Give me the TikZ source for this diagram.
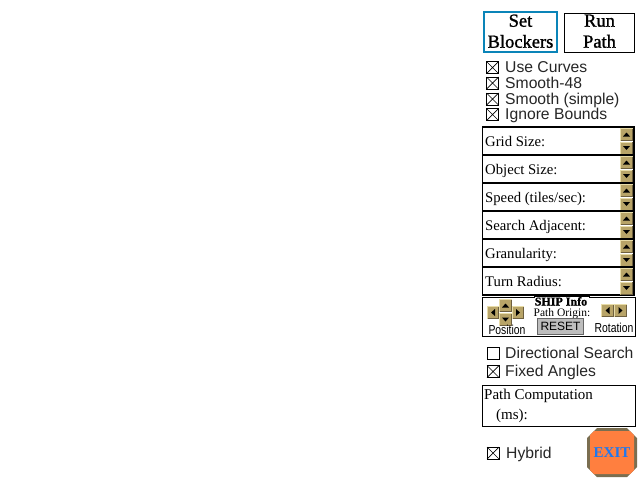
\documentclass[tikz,border=0pt]{standalone}
\usepackage{fontspec}
\setmainfont{Liberation Serif}
\newfontfamily\sansf{Liberation Sans}
\newfontfamily\heavy[FakeBold=1.2]{Liberation Serif}
\definecolor{tan1}{HTML}{B8A468}
\definecolor{tan2}{HTML}{E8DCA8}
\definecolor{tan3}{HTML}{6E6040}
\definecolor{blueb}{HTML}{0A84B8}
\definecolor{exitor}{HTML}{FF7F3F}
\definecolor{exitbd}{HTML}{7A6E50}
\definecolor{exitbl}{HTML}{1E78F0}
\definecolor{resetg}{HTML}{BDBDBD}
\tikzset{
 panel/.style={draw=black,line width=1pt,fill=white},
 rowlab/.style={anchor=base west,inner sep=0pt,font=\fontsize{14.7}{15}\selectfont},
 pclab/.style={anchor=base west,inner sep=0pt,font=\fontsize{15}{15}\selectfont},
 chk/.style={anchor=base west,inner sep=0pt,text=black!85,font=\sansf\fontsize{15.7}{16}\selectfont},
 boxc/.style={draw=black,line width=.9pt,fill=white},
 btnlab/.style={align=center,inner sep=0pt,font=\heavy\fontsize{18.5}{21}\selectfont},
 small/.style={anchor=base,inner sep=0pt,xscale=.8,font=\sansf\fontsize{13}{13}\selectfont},
}
\newcommand{\spin}[5]{%
 \fill[tan1] (#1,#2) rectangle ++(#3,#4);
 \draw[tan2,line width=1pt] (#1+.5,#2+#4-.5) -- (#1+.5,#2+.5) -- (#1+#3-.5,#2+.5);
 \draw[tan3,line width=1pt] (#1+.5,#2+#4-.5) -- (#1+#3-.5,#2+#4-.5) -- (#1+#3-.5,#2+.5);
 \ifcase#5
 \fill[black] ({#1+#3/2-3.5},{#2+#4/2+2}) -- ({#1+#3/2+3.5},{#2+#4/2+2}) -- ({#1+#3/2},{#2+#4/2-2}) -- cycle;
 \or
 \fill[black] ({#1+#3/2-3.5},{#2+#4/2-2}) -- ({#1+#3/2+3.5},{#2+#4/2-2}) -- ({#1+#3/2},{#2+#4/2+2}) -- cycle;
 \or
 \fill[black] ({#1+#3/2+2},{#2+#4/2-3.5}) -- ({#1+#3/2+2},{#2+#4/2+3.5}) -- ({#1+#3/2-2},{#2+#4/2}) -- cycle;
 \or
 \fill[black] ({#1+#3/2-2},{#2+#4/2-3.5}) -- ({#1+#3/2-2},{#2+#4/2+3.5}) -- ({#1+#3/2+2},{#2+#4/2}) -- cycle;
 \fi
}
\newcommand{\checkb}[3]{%
 \draw[boxc] (#1,#2) rectangle ++(12,12);
 \ifnum#3=1 \draw[black,line width=.7pt] (#1,#2) -- ++(12,12) (#1+12,#2) -- ++(-12,12);\fi
}
\newcommand{\rowb}[2]{%
 \draw[panel,line width=1.6pt] (482.5,#1) rectangle (634,#1+28);
 \node[rowlab] (row#1) at (485,#1+19) {#2};
 \spin{620}{#1+1}{13}{13}{0}
 \spin{620}{#1+14.5}{13}{13}{1}
}
\begin{document}
\begin{tikzpicture}[x=1pt,y=-1pt]
\useasboundingbox (0,0) rectangle (640,480);
\fill[white] (0,0) rectangle (640,480);
\node[draw=blueb,line width=2.4pt,fill=white,minimum width=73pt,minimum height=40.5pt,inner sep=0pt] (setb) at (520.5,32) {};
\node[btnlab] at (520.5,31.2) {Set\\Blockers};
\node[draw=black,line width=1pt,fill=white,minimum width=70pt,minimum height=39pt,inner sep=0pt] (runp) at (599.5,32.5) {};
\node[btnlab] at (599.5,31.2) {Run\\Path};
\checkb{486.5}{61.5}{1}\node[chk] (c1) at (505,72.5) {Use Curves};
\checkb{486.5}{77}{1}\node[chk] (c2) at (505,88.5) {Smooth-48};
\checkb{486.5}{93}{1}\node[chk] (c3) at (505,104.5) {Smooth (simple)};
\checkb{486.5}{108.5}{1}\node[chk] (c4) at (505,119.5) {Ignore Bounds};
\rowb{127}{Grid Size:}
\rowb{155}{Object Size:}
\rowb{183}{Speed (tiles/sec):}
\rowb{211}{Search Adjacent:}
\rowb{239}{Granularity:}
\rowb{267}{Turn Radius:}
\draw[panel] (482.5,297.5) rectangle (635,336.5);
\fill[white] (534,296) rectangle (589,299);
\draw[black,line width=1pt] (534,297.5) -- (534,296.5) -- (589,296.5) -- (589,297.5);
\spin{487}{306}{12}{13}{2}
\spin{512}{306}{12}{13}{3}
\spin{499}{299}{13}{13}{0}
\spin{499}{313}{13}{13}{1}
\spin{601}{304}{13}{13}{2}
\spin{614}{304}{13}{13}{3}
\node[small] (pos) at (507,334) {Position};
\node[small] (rot) at (614,332) {Rotation};
\node[anchor=base,inner sep=0pt,font=\heavy\bfseries\fontsize{12}{12}\selectfont] (ship) at (561,305.5) {SHIP Info};
\node[anchor=base,inner sep=0pt,font=\fontsize{11.5}{11.5}\selectfont] (po) at (562,316) {Path Origin:};
\node[draw=black!60,line width=1pt,fill=resetg,minimum width=46pt,minimum height=16pt,inner sep=0pt,font=\sansf\fontsize{12}{12}\selectfont] (reset) at (560.5,326) {RESET};
\checkb{487}{347.5}{0}\node[chk] (d1) at (505,358.5) {Directional Search};
\checkb{487}{365.5}{1}\node[chk] (d2) at (505,376.5) {Fixed Angles};
\draw[panel] (482.5,385.5) rectangle (635.5,426.5);
\node[pclab] (pc1) at (484,399) {Path Computation};
\node[pclab] (pc2) at (496,419) {(ms):};
\checkb{487}{447}{1}\node[chk] (h) at (506,458.5) {Hybrid};
\fill[exitbd] (597,428) -- (627,428) -- (637,438) -- (637,467) -- (627,477) -- (597,477) -- (587,467) -- (587,438) -- cycle;
\fill[exitor] (594,431) -- (630,431) -- (634,435) -- (634,470) -- (630,474) -- (594,474) -- (590,470) -- (590,435) -- cycle;
\node[anchor=base,inner sep=0pt,text=exitbl,font=\bfseries\fontsize{15}{15}\selectfont] (exit) at (612,457) {EXIT};
\end{tikzpicture}
\end{document}
